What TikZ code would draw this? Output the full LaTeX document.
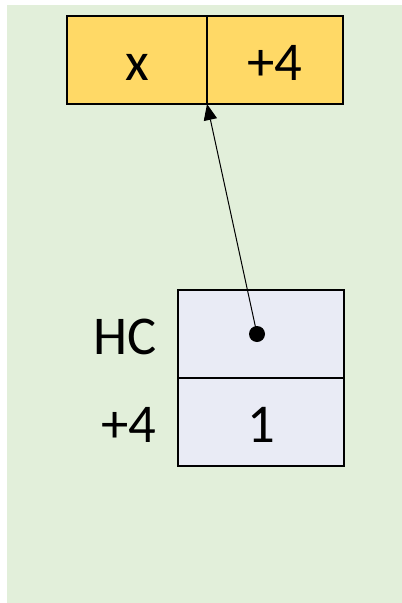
\documentclass[tikz,border=0pt]{standalone}
\usepackage{fontspec}
\setmainfont{Carlito}
\usetikzlibrary{arrows.meta, positioning}

\definecolor{bggreen}{HTML}{E2EFDA}
\definecolor{headyellow}{HTML}{FFD966}
\definecolor{slotblue}{HTML}{E9EBF5}

\begin{document}
\begin{tikzpicture}[
  x=0.75pt, y=-0.75pt,
  big/.style   = {font=\fontsize{41}{49}\selectfont,
                  text height=48pt, text depth=18pt},
  cell/.style  = {draw, big, line width=1.6pt, minimum height=66pt,
                  inner sep=0pt, outer sep=0pt},
  head/.style  = {cell, fill=headyellow},
  slot/.style  = {cell, fill=slotblue, minimum width=124.5pt},
  lbl/.style   = {big, inner sep=0pt},
  dot/.style   = {circle, fill, inner sep=0pt, minimum size=12pt},
  ptr/.style   = {-{Triangle[length=12pt, width=10pt]}, line width=0.75pt}
]
  \useasboundingbox (0,0) rectangle (402,603);
  \fill[bggreen] (7,5) rectangle (402,603);

  %% Header object
  \node[head, minimum width=105pt, anchor=north west] (hx) at (67,16) {x};
  \node[head, minimum width=102pt, right=0pt of hx]  (hoff) {+4};

  %% Handle cells
  \node[slot, anchor=north west] (hc)  at (178,290) {};
  \node[slot, below=0pt of hc]   (val) {1};
  \node[lbl, left=16pt of hc]    (hclbl)  {HC};
  \node[lbl, left=16pt of val]   (vallbl) {+4};

  %% Pointer
  \node[dot] (ref) at (257,334) {};
  \draw[ptr] (ref.center) -- (hx.south east);
\end{tikzpicture}
\end{document}
